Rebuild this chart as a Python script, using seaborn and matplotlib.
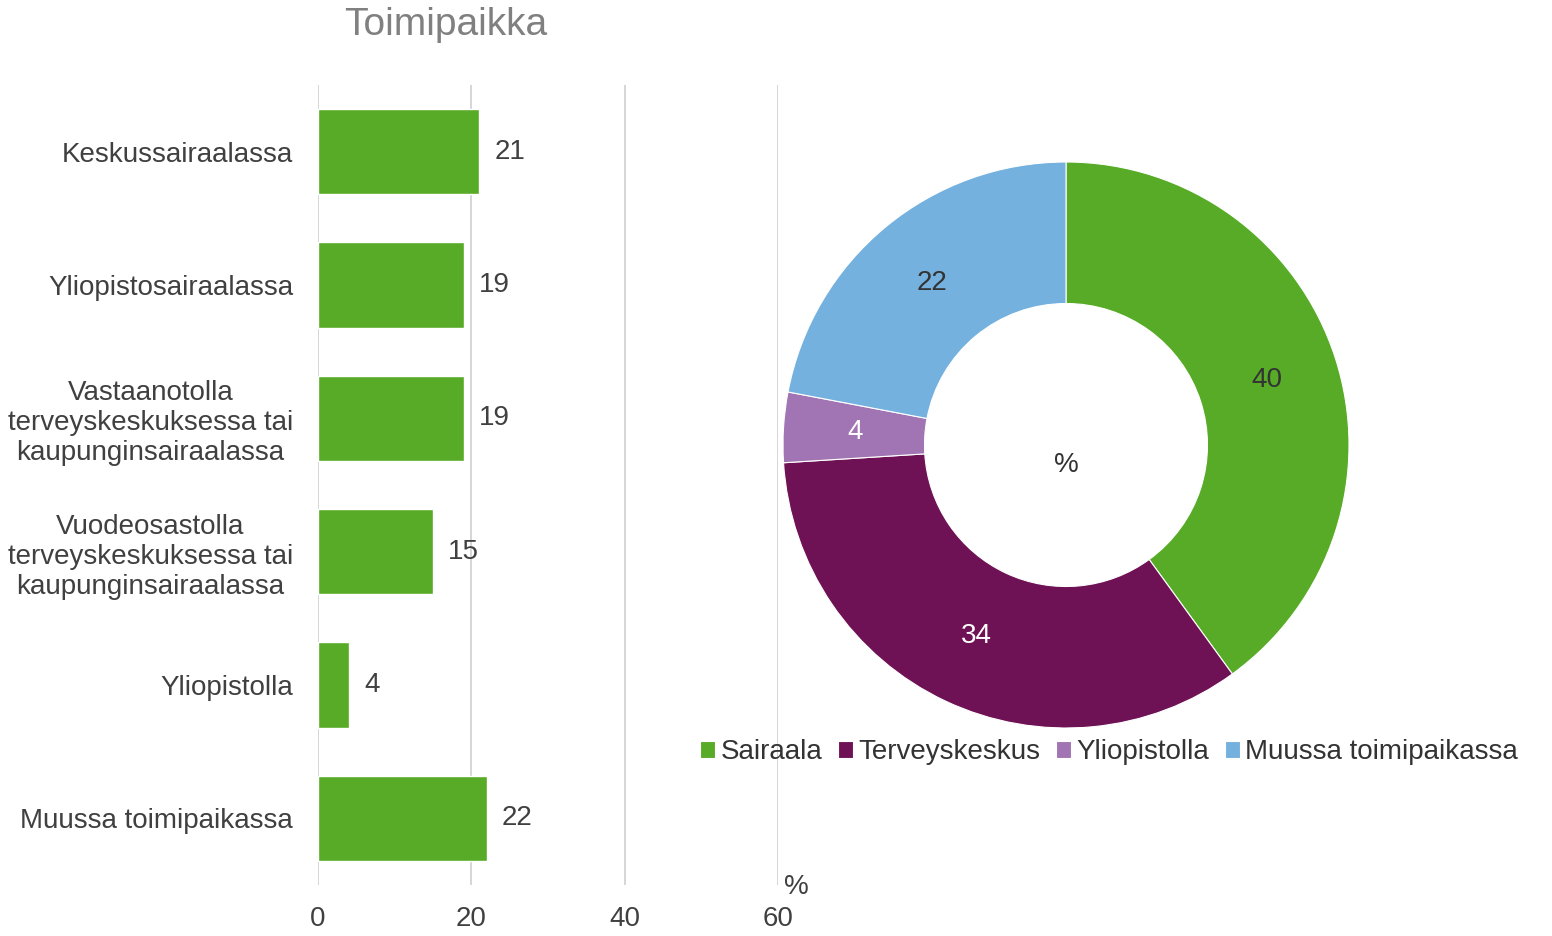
import numpy as np
import pandas as pd
import matplotlib
matplotlib.use("Agg")
import matplotlib.pyplot as plt
import seaborn as sns

# data
categories = ["Keskussairaalassa",
              "Yliopistosairaalassa",
              "Vastaanotolla\nterveyskeskuksessa tai\nkaupunginsairaalassa",
              "Vuodeosastolla\nterveyskeskuksessa tai\nkaupunginsairaalassa",
              "Yliopistolla",
              "Muussa toimipaikassa"]
values = [21, 19, 19, 15, 4, 22]
xticks = [0, 20, 40, 60]

pie_labels = ["Sairaala", "Terveyskeskus", "Yliopistolla", "Muussa toimipaikassa"]
pie_values = [40, 34, 4, 22]
pie_colors = ["#57AB27", "#6E1255", "#A175B3", "#74B1DE"]
pie_text_colors = ["#333333", "white", "white", "#333333"]

sns.set_style("white")
plt.rcParams['font.family'] = ['Liberation Sans', 'DejaVu Sans']

txt = "#404040"
green = "#57AB27"
fs = 20

fig = plt.figure(figsize=(15.52, 9.36), dpi=100)

# bar chart
ax = fig.add_axes([318/1552, 1 - 885/936, 460/1552, 800/936])
df = pd.DataFrame({"cat": categories, "val": values})
sns.barplot(data=df, x="val", y="cat", orient="h", color=green, saturation=1,
            width=0.64, ax=ax, zorder=3)
ax.set_xlim(0, 60)
ax.set_xticks(xticks)
ax.xaxis.grid(True, color="#D0D0D0", linewidth=1.2)
ax.set_axisbelow(True)
for s in ax.spines.values():
    s.set_visible(False)
ax.tick_params(axis="x", length=0, pad=15, labelsize=fs, labelcolor=txt)
ax.tick_params(axis="y", length=0, pad=18, labelsize=fs, labelcolor=txt)
for lab in ax.get_yticklabels():
    lab.set_multialignment("center")
ax.set_xlabel("")
ax.set_ylabel("")
ax.bar_label(ax.containers[0], padding=11, fontsize=fs, color=txt)
ax.text(1.041, -0.003, "%", transform=ax.transAxes, fontsize=fs, color=txt,
        ha="center", va="center")

fig.text(446/1552, 1 - 25/936, "Toimipaikka", fontsize=28, color="#808080",
         ha="center", va="center")

# donut chart
pax = fig.add_axes([712.25/1552, 137.25/936, 707.5/1552, 707.5/936])
wedges, texts, autotexts = pax.pie(pie_values, colors=pie_colors, startangle=90,
                                   counterclock=False, autopct="%d",
                                   pctdistance=0.745,
                                   wedgeprops=dict(width=0.5, edgecolor="white", linewidth=0.8),
                                   textprops=dict(fontsize=fs))
for t, c in zip(autotexts, pie_text_colors):
    t.set_color(c)
pax.text(0, -0.07, "%", ha="center", va="center", fontsize=fs, color="#333333")
pax.set_aspect("equal")

fig.legend(wedges, pie_labels, loc="center", bbox_to_anchor=(1109/1552, 1 - 752/936),
           ncol=4, frameon=False, fontsize=fs, handlelength=0.55, handleheight=0.55,
           handletextpad=0.2, columnspacing=0.55, labelcolor="#333333")

fig.savefig("out.png", dpi=100)
